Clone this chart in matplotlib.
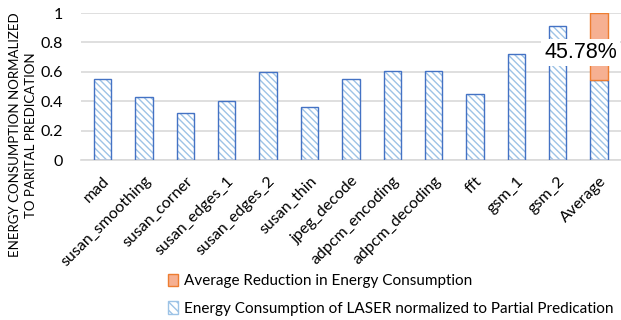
import matplotlib
matplotlib.use("Agg")
import matplotlib.pyplot as plt
import numpy as np
from matplotlib.patches import Patch

categories = ["mad", "susan_smoothing", "susan_corner", "susan_edges_1", "susan_edges_2",
              "susan_thin", "jpeg_decode", "adpcm_encoding", "adpcm_decoding", "fft",
              "gsm_1", "gsm_2", "Average"]
laser_energy = [0.55, 0.43, 0.32, 0.40, 0.60, 0.36, 0.55, 0.605, 0.605, 0.45, 0.725, 0.91, 0.5422]
avg_reduction = [0, 0, 0, 0, 0, 0, 0, 0, 0, 0, 0, 0, 0.4578]
reduction_label = "45.78%"
yticks = [0, 0.2, 0.4, 0.6, 0.8, 1]

plt.rcParams['font.family'] = ['Lato', 'DejaVu Sans']
fig = plt.figure(figsize=(6.21, 3.2), dpi=100)
ax = fig.add_axes([0.130, 0.5, 0.870, 0.459])

x = np.arange(len(categories))
w = 0.42
blue_edge = "#4472C4"
hatch_col = "#9DC3E6"
# hatch layer
ax.bar(x, laser_energy, w, color="white", edgecolor=hatch_col, hatch="\\\\\\\\\\", linewidth=0, zorder=2)
# outline layer
ax.bar(x, laser_energy, w, fill=False, edgecolor=blue_edge, linewidth=1.0, zorder=3)
# orange reduction (only nonzero)
xr = [xi for xi, r in zip(x, avg_reduction) if r > 0]
hr = [r for r in avg_reduction if r > 0]
br = [b for b, r in zip(laser_energy, avg_reduction) if r > 0]
ax.bar(xr, hr, w, bottom=br, color="#F6B092", edgecolor="#ED7D31", linewidth=1.0, zorder=3)

ax.text(x[-1] - 0.45, 0.73, reduction_label, fontsize=15.5, ha="center", va="center",
        family=["Liberation Sans", "DejaVu Sans"],
        bbox=dict(facecolor="white", edgecolor="none", pad=2), zorder=5)

ax.set_xlim(-0.53, len(categories) - 0.47)
ax.set_ylim(0, 1)
ax.set_yticks(yticks)
ax.set_yticklabels([f"{v:g}" for v in yticks], fontsize=11.5)
ax.yaxis.grid(True, color="#D9D9D9", linewidth=1.2, zorder=0)
ax.set_axisbelow(True)
for s in ["top", "right", "left"]:
    ax.spines[s].set_visible(False)
ax.spines["bottom"].set_color("#D9D9D9")
ax.spines["bottom"].set_linewidth(1.2)
ax.tick_params(axis="both", length=0)
ax.tick_params(axis="y", pad=13)
ax.set_xticks(x)
ax.set_xticklabels(categories, rotation=45, ha="right", rotation_mode="anchor", fontsize=11.5)
ax.tick_params(axis="x", pad=10)

fig.text(0.037, 0.578, "ENERGY CONSUMPTION NORMALIZED\nTO PARITAL PREDICATION", rotation=90,
         ha="center", va="center", fontsize=9.5, linespacing=1.45)

handles = [Patch(facecolor="#F6B092", edgecolor="#ED7D31"),
           Patch(facecolor="white", edgecolor=hatch_col, hatch="\\\\\\\\")]
labels = ["Average Reduction in Energy Consumption",
          "Energy Consumption of LASER normalized to Partial Predication"]
fig.legend(handles, labels, loc="upper left", bbox_to_anchor=(0.27, 0.145), frameon=False,
           fontsize=11, handlelength=0.7, handleheight=0.9, handletextpad=0.4, labelspacing=0.85,
           borderaxespad=0, borderpad=0)

fig.savefig("out.png", dpi=100)
